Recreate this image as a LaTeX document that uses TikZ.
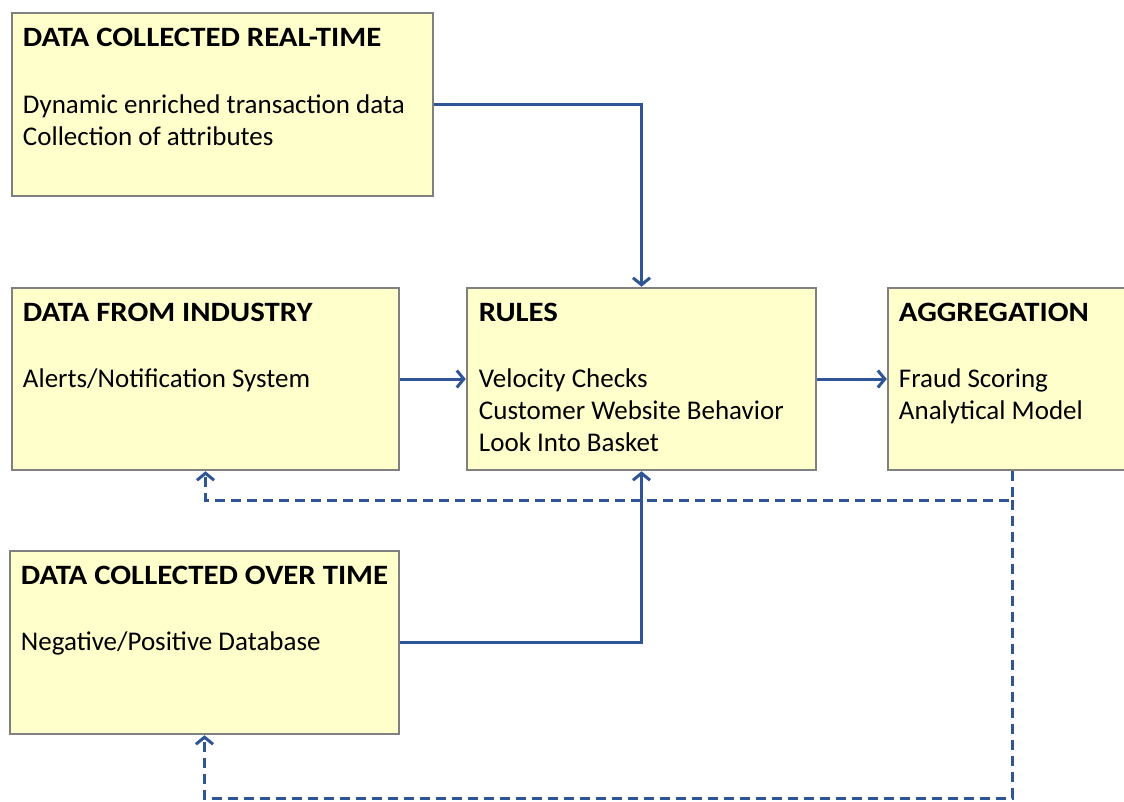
\documentclass[tikz,border=0pt]{standalone}
\usepackage{fontspec}
\setmainfont{Carlito}
\newfontfamily\ttlfamily{Carlito}[FakeStretch=1.10]
\usetikzlibrary{arrows.meta}
\definecolor{boxfill}{RGB}{255,255,204}
\definecolor{boxline}{RGB}{128,128,128}
\definecolor{linkblue}{RGB}{47,85,151}
\tikzset{
  box/.style={draw=boxline, fill=boxfill, line width=2.5pt, rectangle, inner sep=0pt},
  ttl/.style={anchor=base west, inner sep=0pt, font=\ttlfamily\fontsize{28}{32}\selectfont\bfseries},
  txt/.style={anchor=base west, inner sep=0pt, font=\fontsize{27}{32}\selectfont},
  link/.style={draw=linkblue, line width=3pt, -{Straight Barb[length=7pt,width=17pt]}},
  dlink/.style={link, dash pattern=on 10pt off 6pt},
}
\begin{document}
\begin{tikzpicture}[x=1pt,y=-1pt]
\useasboundingbox (0,0) rectangle (1124,801);
\clip (0,0) rectangle (1124,801);
% boxes
\node[box, minimum width=421pt, minimum height=183pt] (b1) at (222.5,104.5) {};
\node[box, minimum width=387pt, minimum height=182pt] (b2) at (205.5,379) {};
\node[box, minimum width=349pt, minimum height=182pt] (rules) at (641.5,379) {};
\node[box, minimum width=248pt, minimum height=182pt] (agg) at (1012,379) {};
\node[box, minimum width=389pt, minimum height=183pt] (b4) at (204.5,642.5) {};
% texts
\node[ttl] (b1t) at ([shift={(12,35)}]b1.north west) {DATA COLLECTED REAL-TIME};
\node[txt] (b1a) at ([shift={(12,102)}]b1.north west) {Dynamic enriched transaction data};
\node[txt] (b1b) at ([shift={(12,134)}]b1.north west) {Collection of attributes};
\node[ttl] (b2t) at ([shift={(12,35)}]b2.north west) {DATA FROM INDUSTRY};
\node[txt] (b2a) at ([shift={(12,101)}]b2.north west) {Alerts/Notification System};
\node[ttl] (rt) at ([shift={(13,35)}]rules.north west) {RULES};
\node[txt] (ra) at ([shift={(13,101)}]rules.north west) {Velocity Checks};
\node[txt] (rb) at ([shift={(13,133)}]rules.north west) {Customer Website Behavior};
\node[txt] (rc) at ([shift={(13,165)}]rules.north west) {Look Into Basket};
\node[ttl] (at) at ([shift={(12,35)}]agg.north west) {AGGREGATION};
\node[txt] (aa) at ([shift={(12,101)}]agg.north west) {Fraud Scoring};
\node[txt] (ab) at ([shift={(12,133)}]agg.north west) {Analytical Model};
\node[ttl] (b4t) at ([shift={(12,35)}]b4.north west) {DATA COLLECTED OVER TIME};
\node[txt] (b4a) at ([shift={(12,101)}]b4.north west) {Negative/Positive Database};
% connectors
\draw[link] (b1.east) -| (rules.north);
\draw[link] (b2.east) -- (rules.west);
\draw[link] (rules.east) -- (agg.west);
\draw[link] (b4.east) -| (rules.south);
\coordinate (split) at (agg.south |- 0,500);
\coordinate (bot) at (agg.south |- 0,798);
\draw[dlink] (agg.south) -- (split) -| (b2.south);
\draw[dlink] (split) -- (bot) -| (b4.south);
\end{tikzpicture}
\end{document}
